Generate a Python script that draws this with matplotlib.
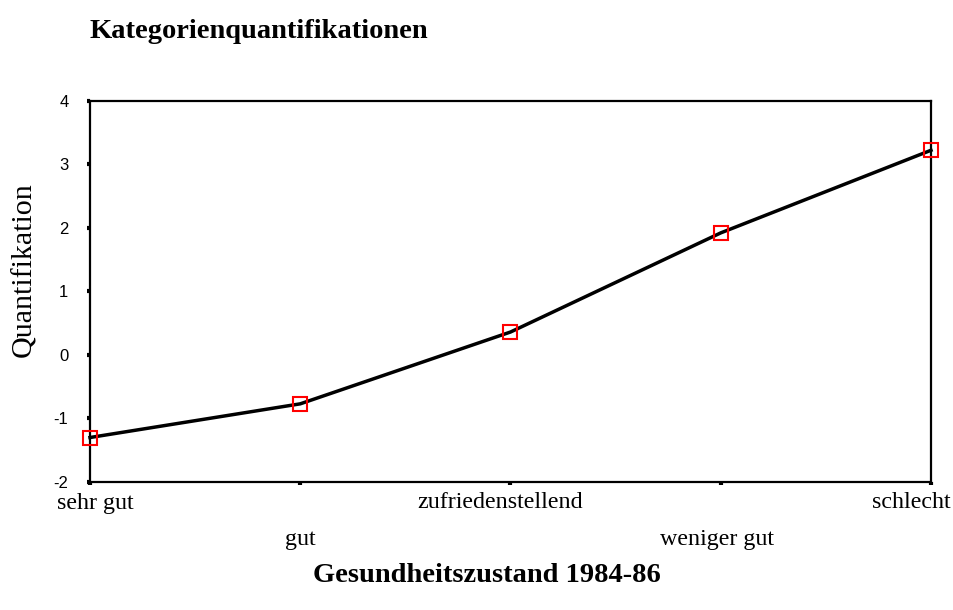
import matplotlib
matplotlib.use('Agg')
import matplotlib.pyplot as plt

categories = ['sehr gut', 'gut', 'zufriedenstellend', 'weniger gut', 'schlecht']
quantification = [-1.30, -0.77, 0.36, 1.92, 3.22]
y_ticks = [-2, -1, 0, 1, 2, 3, 4]

serif = 'Liberation Serif'
sans = 'Liberation Sans'

fig = plt.figure(figsize=(9.54, 6.10), dpi=100)
ax = fig.add_axes([90 / 954, 1 - 482 / 610, (931 - 90) / 954, (482 - 100.7) / 610])

x = list(range(len(categories)))
ax.plot(x, quantification, color='black', linewidth=2.5, zorder=3, clip_on=False)
ax.plot(x, quantification, linestyle='none', marker='s', markersize=10.5,
        markerfacecolor='none', markeredgecolor='red', markeredgewidth=1.5,
        zorder=4, clip_on=False)

ax.set_xlim(0, len(categories) - 1)
ax.set_ylim(-2, 4)
ax.set_yticks(y_ticks)
ax.set_yticklabels([str(v) for v in y_ticks], fontfamily=sans, fontsize=12)
ax.set_xticks(x)
ax.set_xticklabels([])

# alternate the category labels on two rows, nudging the end ones inside
shift = [5, 0, -10, -4, -20]
for i, lab in enumerate(categories):
    dy = -21 if i % 2 == 0 else -57
    ax.annotate(lab, xy=(i, -2), xycoords='data', xytext=(shift[i], dy),
                textcoords='offset pixels', ha='center', va='center',
                fontfamily=serif, fontsize=17.3, annotation_clip=False)

for s in ax.spines.values():
    s.set_linewidth(1.6)
ax.tick_params(axis='both', direction='out', length=2.5, width=3, pad=13)

fig.text(90 / 954, 1 - 31 / 610, 'Kategorienquantifikationen', fontfamily=serif,
         fontweight='bold', fontsize=20.5, ha='left', va='center')
fig.text(487 / 954, 1 - 575 / 610, 'Gesundheitszustand 1984-86', fontfamily=serif,
         fontweight='bold', fontsize=20.5, ha='center', va='center')
fig.text(24 / 954, 1 - 270 / 610, 'Quantifikation', fontfamily=serif,
         fontsize=21.6, rotation=90, ha='center', va='center')

fig.savefig('out.png', dpi=100)
